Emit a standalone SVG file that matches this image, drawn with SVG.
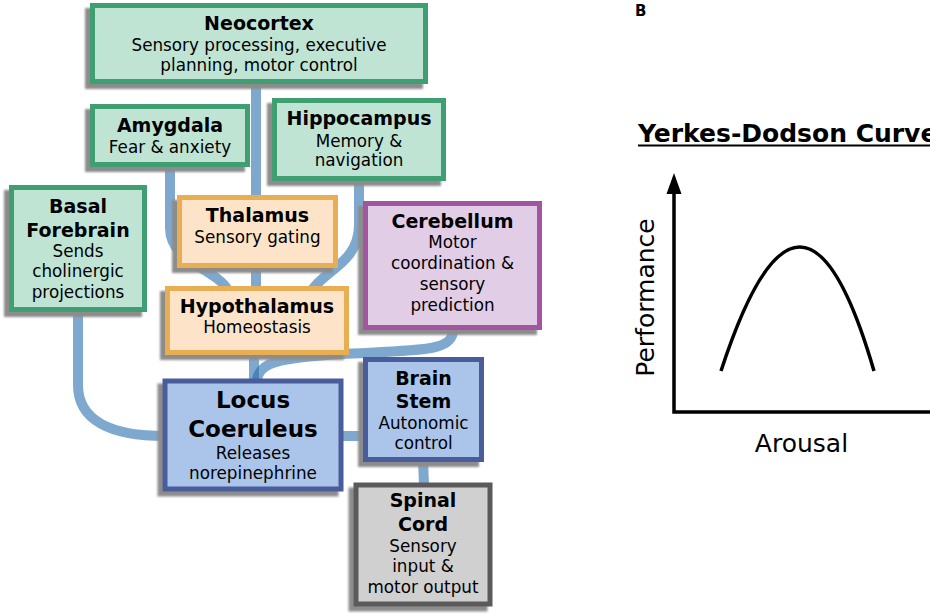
<svg xmlns="http://www.w3.org/2000/svg" width="930" height="616" viewBox="0 0 930 616">
<style>
text{font-family:"DejaVu Sans",Verdana,sans-serif;fill:#000;text-anchor:middle}
.t{font-weight:bold;font-size:19px}
.tl{font-weight:bold;font-size:23px}
.s{font-size:16.8px}
.box{stroke-width:5}
.g{fill:#bfe4d4;stroke:#3f9e73}
.o{fill:#fde4c8;stroke:#e8ae52}
.p{fill:#e1cde6;stroke:#a2579f}
.b{fill:#aac5e9;stroke:#4a5b9c}
.k{fill:#d0d0d0;stroke:#5a5a5a}
.c{fill:none;stroke:#2169aa;stroke-opacity:0.58;stroke-width:10}
.ax{stroke:#000;stroke-width:3.5;fill:none}
</style>
<defs>
<filter id="sh" x="-15%" y="-15%" width="130%" height="130%">
<feOffset in="SourceAlpha" dx="-5" dy="5" result="o"/>
<feGaussianBlur in="o" stdDeviation="0.8" result="bl"/>
<feFlood flood-color="#8c8c8c"/>
<feComposite in2="bl" operator="in" result="s"/>
<feMerge><feMergeNode in="s"/><feMergeNode in="SourceGraphic"/></feMerge>
</filter>
</defs>
<rect width="930" height="616" fill="#fff"/>
<g id="connectors">
<path class="c" d="M 256 84 L 256 288"/>
<path class="c" d="M 170 167 L 170 228 C 170 262 215 268 228 290"/>
<path class="c" d="M 359 181 L 359 225 C 359 262 325 270 312 290"/>
<path class="c" d="M 78 312 L 78 385 C 78 420 110 436 165 436"/>
<path class="c" d="M 254 355 L 254 381"/>
<path class="c" d="M 453 330 C 453 352 420 350 340 354 C 280 358 258 362 257 381"/>
<path class="c" d="M 343 436 L 366 436"/>
<path class="c" d="M 423 461 L 424 485"/>
</g>
<g id="neocortex">
<rect class="box g" x="92.5" y="5.5" width="333" height="76" filter="url(#sh)"/>
<text class="t" x="259" y="30">Neocortex</text>
<text class="s" x="259" y="51">Sensory processing, executive</text>
<text class="s" x="259" y="71">planning, motor control</text>
</g>
<g id="amygdala">
<rect class="box g" x="92.5" y="106.5" width="155" height="58" filter="url(#sh)"/>
<text class="t" x="170" y="132">Amygdala</text>
<text class="s" x="170" y="153">Fear &amp; anxiety</text>
</g>
<g id="hippocampus">
<rect class="box g" x="274.5" y="100.5" width="169" height="78" filter="url(#sh)"/>
<text class="t" x="359" y="125">Hippocampus</text>
<text class="s" x="359" y="147">Memory &amp;</text>
<text class="s" x="359" y="166">navigation</text>
</g>
<g id="basal-forebrain">
<rect class="box g" x="11.5" y="187.5" width="133" height="122" filter="url(#sh)"/>
<text class="t" x="78" y="213">Basal</text>
<text class="t" x="78" y="237">Forebrain</text>
<text class="s" x="78" y="257">Sends</text>
<text class="s" x="78" y="277">cholinergic</text>
<text class="s" x="78" y="298">projections</text>
</g>
<g id="thalamus">
<rect class="box o" x="179.5" y="197.5" width="156" height="68" filter="url(#sh)"/>
<text class="t" x="257.5" y="222">Thalamus</text>
<text class="s" x="257.5" y="243">Sensory gating</text>
</g>
<g id="cerebellum">
<rect class="box p" x="365.5" y="203.5" width="174" height="124" filter="url(#sh)"/>
<text class="t" x="452.5" y="228">Cerebellum</text>
<text class="s" x="452.5" y="248">Motor</text>
<text class="s" x="452.5" y="269">coordination &amp;</text>
<text class="s" x="452.5" y="290">sensory</text>
<text class="s" x="452.5" y="311">prediction</text>
</g>
<g id="hypothalamus">
<rect class="box o" x="167.5" y="288.5" width="179" height="64" filter="url(#sh)"/>
<text class="t" x="257" y="313">Hypothalamus</text>
<text class="s" x="257" y="333">Homeostasis</text>
</g>
<g id="locus-coeruleus">
<rect class="box b" x="165" y="381" width="176" height="108" stroke-width="6" filter="url(#sh)"/>
<text class="tl" x="253" y="408">Locus</text>
<text class="tl" x="253" y="437">Coeruleus</text>
<text class="s" x="253" y="459">Releases</text>
<text class="s" x="253" y="479">norepinephrine</text>
</g>
<g id="brain-stem">
<rect class="box b" x="365.5" y="359.5" width="116" height="100" filter="url(#sh)"/>
<text class="t" x="423.5" y="385">Brain</text>
<text class="t" x="423.5" y="408">Stem</text>
<text class="s" x="423.5" y="429">Autonomic</text>
<text class="s" x="423.5" y="449">control</text>
</g>
<g id="spinal-cord">
<rect class="box k" x="356" y="485" width="134" height="119" stroke-width="6" filter="url(#sh)"/>
<text class="t" x="423" y="507">Spinal</text>
<text class="t" x="423" y="531">Cord</text>
<text class="s" x="423" y="552">Sensory</text>
<text class="s" x="423" y="572">input &amp;</text>
<text class="s" x="423" y="593">motor output</text>
</g>
<g id="panel-b">
<text x="635" y="16" style="font-weight:bold;font-size:15px;text-anchor:start">B</text>
<text x="638" y="142" style="font-weight:bold;font-size:25px;text-anchor:start">Yerkes-Dodson Curve</text>
<line x1="638" y1="145.5" x2="930" y2="145.5" stroke="#000" stroke-width="2.2"/>
<path class="ax" d="M 674 190 L 674 412 L 932 412"/>
<polygon points="674,173 666.5,194 681.5,194" fill="#000"/>
<path class="ax" d="M 721 371 Q 802 123 874 371" stroke-width="3"/>
<text x="654" y="297.5" transform="rotate(-90 654 297.5)" style="font-size:25px">Performance</text>
<text x="801.5" y="452" style="font-size:25px">Arousal</text>
</g>
</svg>
